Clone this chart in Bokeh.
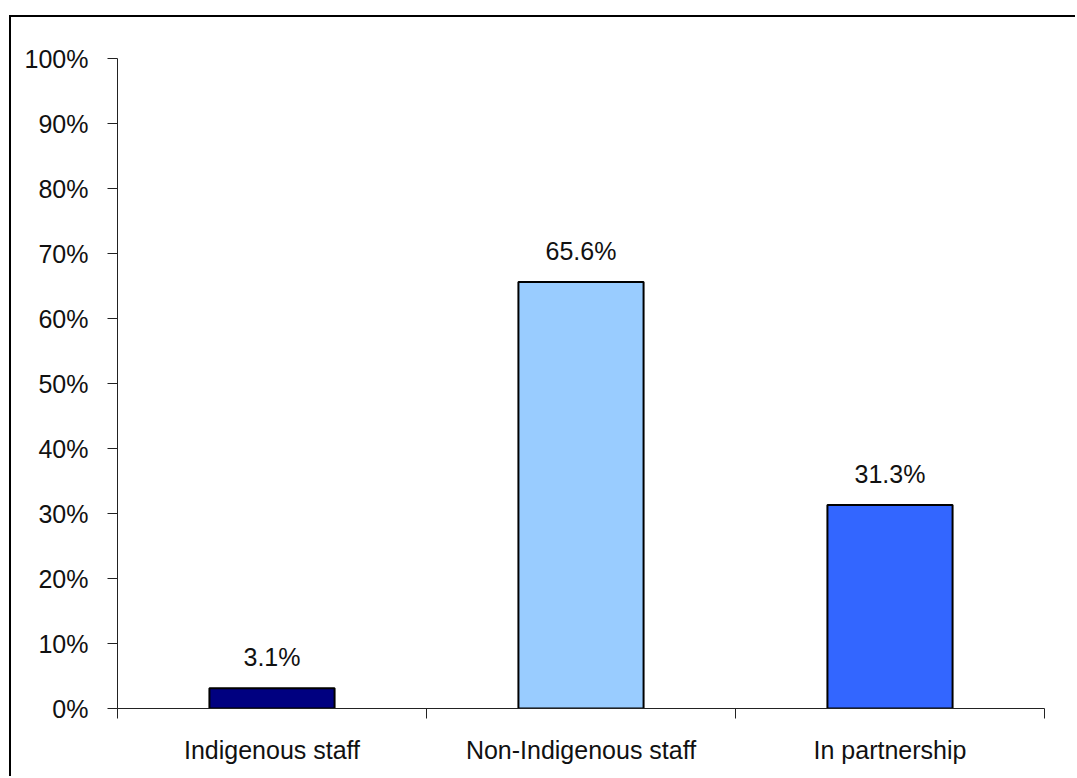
from bokeh.plotting import figure
from bokeh.models import ColumnDataSource, FixedTicker, PrintfTickFormatter, Range1d, LabelSet
from bokeh.core.properties import value
from bokeh.embed import file_html
from bokeh.resources import INLINE

# Who delivered the programme (share of responses)
categories = ["Indigenous staff", "Non-Indigenous staff", "In partnership"]
values = [3.1, 65.6, 31.3]
colors = ["#000080", "#99CCFF", "#3366FF"]
y_ticks = [0, 10, 20, 30, 40, 50, 60, 70, 80, 90, 100]

FONT = "Liberation Sans"
FS = "25px"

x_centers = [i + 0.5 for i in range(len(categories))]
source = ColumnDataSource(dict(
    x=x_centers,
    top=values,
    color=colors,
    label=[f"{v:.1f}%" for v in values],
))

p = figure(
    width=1066, height=761,
    x_range=Range1d(0, len(categories)),
    y_range=Range1d(0, 100),
    output_backend="svg",
    toolbar_location=None,
    min_border_left=106, min_border_right=33,
    min_border_top=41, min_border_bottom=70,
)
p.margin = (15, 0, 0, 9)
p.styles = {"border-left": "2px solid black", "border-top": "2px solid black"}

p.outline_line_color = None
p.xgrid.visible = False
p.ygrid.visible = False

p.vbar(x="x", top="top", width=0.405, bottom=0, source=source,
       fill_color="color", line_color="black", line_width=2)

labels = LabelSet(x="x", y="top", text="label", source=source,
                  text_align="center", text_baseline="alphabetic",
                  y_offset=22, text_font=value(FONT),
                  text_font_size=value(FS), text_color=value("#111111"))
p.add_layout(labels)

# y axis
p.yaxis.ticker = FixedTicker(ticks=y_ticks)
p.yaxis.formatter = PrintfTickFormatter(format="%d%%")
p.yaxis.major_tick_in = 0
p.yaxis.major_tick_out = 10
p.yaxis.minor_tick_line_color = None
p.yaxis.axis_line_color = "#222222"
p.yaxis.major_tick_line_color = "#222222"
p.yaxis.major_label_standoff = 19
p.yaxis.major_label_text_font = FONT
p.yaxis.major_label_text_font_size = FS
p.yaxis.major_label_text_color = "#111111"

# x axis: labels at category centres, tick marks at category boundaries
p.xaxis.ticker = FixedTicker(ticks=x_centers,
                             minor_ticks=list(range(len(categories) + 1)))
p.xaxis.major_label_overrides = {c: lab for c, lab in zip(x_centers, categories)}
p.xaxis.major_tick_line_color = None
p.xaxis.major_tick_in = 0
p.xaxis.major_tick_out = 10
p.xaxis.minor_tick_in = 0
p.xaxis.minor_tick_out = 10
p.xaxis.minor_tick_line_color = "#222222"
p.xaxis.axis_line_color = "#222222"
p.xaxis.major_label_standoff = 17
p.xaxis.major_label_text_font = FONT
p.xaxis.major_label_text_font_size = FS
p.xaxis.major_label_text_color = "#111111"

open("out.html", "w").write(file_html(p, INLINE))
